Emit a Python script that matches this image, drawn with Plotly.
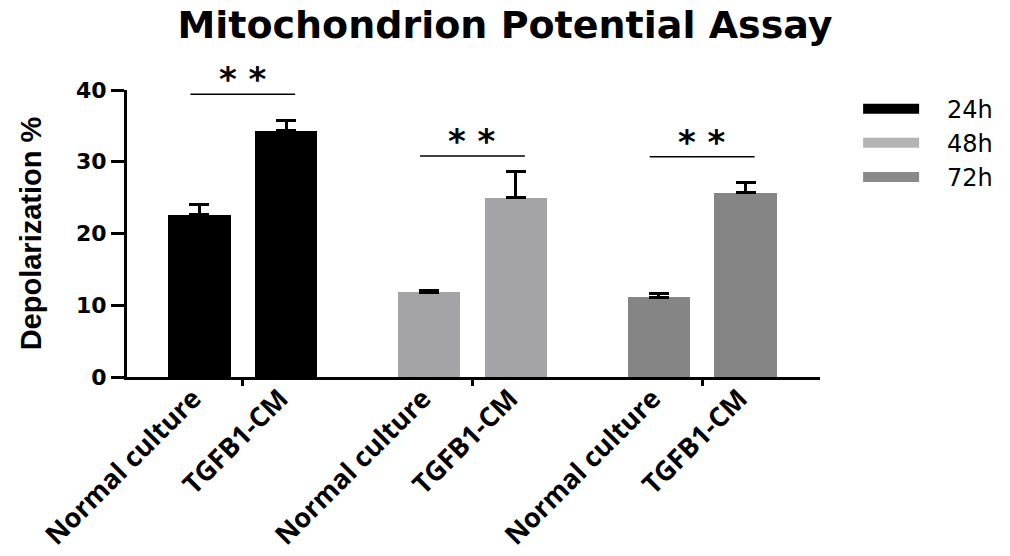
import plotly.graph_objects as go

# ---- data ----
series = ["24h", "48h", "72h"]
conditions = ["Normal culture", "TGFB1-CM"]
values = {
    "24h": [22.6, 34.3],
    "48h": [11.8, 25.0],
    "72h": [11.1, 25.7],
}
errors = {
    "24h": [1.4, 1.4],
    "48h": [0.2, 3.6],
    "72h": [0.5, 1.4],
}
sig_labels = ["* *", "* *", "* *"]
sig_heights = [39.4, 30.8, 30.7]

bar_colors = {"24h": "#000000", "48h": "#a4a4a8", "72h": "#858585"}
legend_colors = {"24h": "#000000", "48h": "#b4b4b4", "72h": "#8a8a8a"}

offset = 0.189
bar_w = 0.272

fig = go.Figure()
tickvals, ticktext = [], []
for g, s in enumerate(series):
    xs = [g - offset, g + offset]
    tickvals += xs
    ticktext += conditions
    fig.add_trace(go.Bar(
        x=xs, y=values[s], width=bar_w,
        marker=dict(color=bar_colors[s], line=dict(width=0)),
        error_y=dict(type="data", symmetric=False, array=errors[s],
                     arrayminus=[0, 0], color="#000000", thickness=3, width=10),
        showlegend=False, xaxis="x", yaxis="y",
    ))
    # legend entry
    fig.add_trace(go.Scatter(
        x=[None], y=[None], mode="lines", name="\u00a0\u00a0\u00a0" + s,
        line=dict(color=legend_colors[s], width=18),
        showlegend=True,
    ))
    # significance bar
    fig.add_shape(type="line", xref="x", yref="y",
                  x0=g - 0.228, x1=g + 0.228, y0=sig_heights[g], y1=sig_heights[g],
                  line=dict(color="#000000", width=1.5))
    fig.add_annotation(x=g, y=sig_heights[g], xref="x", yref="y",
                       text=sig_labels[g], showarrow=False, yanchor="bottom",
                       yshift=-7,
                       font=dict(family="DejaVu Sans", size=34, color="#000000",
                                 weight="bold"))

# group tick marks on overlay axis
fig.add_trace(go.Scatter(x=[None], y=[None], xaxis="x2", yaxis="y", showlegend=False))

xrange = [-0.504, 2.513]
fig.update_layout(
    width=1010, height=556,
    margin=dict(l=127, r=190, t=90, b=179, autoexpand=False),
    paper_bgcolor="white", plot_bgcolor="white",
    title=dict(text="Mitochondrion Potential Assay", x=0.5, xanchor="center",
               y=0.955, yanchor="middle",
               font=dict(family="DejaVu Sans", size=38, color="#000000", weight="bold")),
    bargap=0,
    xaxis=dict(range=xrange, tickvals=tickvals, ticktext=ticktext, tickangle=-45,
               ticks="", showline=True, linecolor="#000000", linewidth=3,
               showgrid=False, zeroline=False, automargin=False,
               ticklabelstandoff=-8, ticklabelshift=-6,
               tickfont=dict(family="Open Sans", size=27, color="#000000", weight="bold")),
    xaxis2=dict(range=xrange, overlaying="x", side="bottom", anchor="y",
                tickvals=[0, 1, 2], ticktext=["", "", ""], ticks="outside",
                ticklen=8, tickwidth=3, tickcolor="#000000", automargin=False,
                showline=False, showgrid=False, zeroline=False),
    yaxis=dict(range=[0, 40], tickvals=[0, 10, 20, 30, 40], ticks="outside",
               ticklen=13, tickwidth=3, tickcolor="#000000",
               showline=True, linecolor="#000000", linewidth=3,
               showgrid=False, zeroline=False, automargin=False,
               tickfont=dict(family="DejaVu Sans", size=22, color="#000000", weight="bold"),
               title=dict(text="Depolarization %", standoff=26,
                          font=dict(family="Liberation Sans", size=29, color="#000000",
                                    weight="bold"))),
    legend=dict(x=1.055, y=1.012, xanchor="left", yanchor="top",
                font=dict(family="DejaVu Sans", size=24, color="#000000"),
                bgcolor="rgba(0,0,0,0)", itemwidth=56, tracegroupgap=0),
)

fig.write_html("out.html")
